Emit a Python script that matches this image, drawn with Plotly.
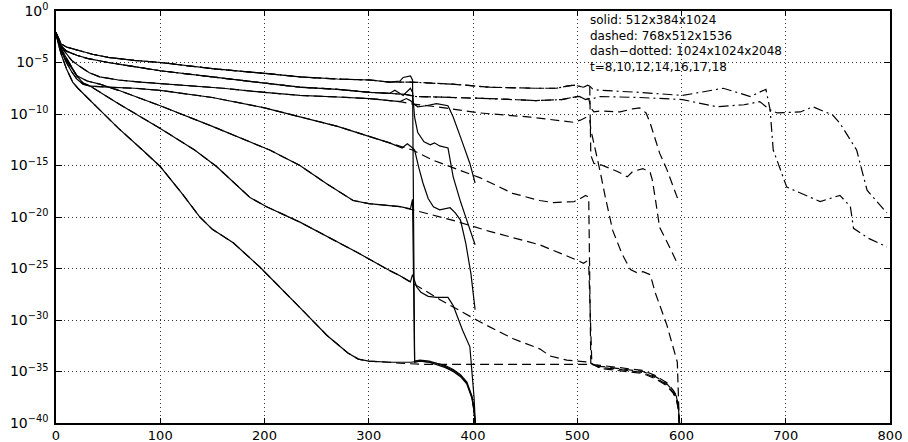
import plotly.graph_objects as go

# ---------- shared trajectories (x, log10 residual) up to x~320 ----------
A_pre_x = [0, 2, 5, 10, 20, 35, 50, 75, 100, 150, 200, 234, 270, 301, 320]
A_pre_e = [-2.1, -2.6, -3.2, -3.5, -3.8, -4.2, -4.5, -4.8, -5.0, -5.6, -6.05, -6.4, -6.6, -6.7, -6.9]
B_pre_x = [0, 2, 5, 10, 20, 30, 50, 75, 100, 150, 200, 234, 270, 301, 320]
B_pre_e = [-2.1, -2.7, -3.4, -3.9, -4.3, -4.6, -5.0, -5.4, -5.8, -6.4, -7.0, -7.4, -7.6, -7.9, -8.0]
C_pre_x = [0, 2, 5, 10, 15, 23, 32, 42, 60, 81, 120, 160, 200, 234, 270, 301, 320]
C_pre_e = [-2.1, -2.8, -3.5, -4.2, -4.8, -5.4, -6.0, -6.4, -6.7, -6.9, -7.2, -7.5, -7.9, -8.2, -8.35, -8.5, -8.7]
D_pre_x = [0, 2, 5, 10, 15, 20, 26, 33, 50, 75, 100, 150, 200, 234, 270, 301, 320]
D_pre_e = [-2.1, -2.9, -3.7, -4.6, -5.4, -6.3, -7.0, -7.3, -7.4, -7.5, -7.7, -8.4, -9.4, -10.3, -11.2, -12.2, -12.8]
E_pre_x = [0, 2, 5, 10, 15, 20, 30, 42, 60, 100, 150, 205, 234, 260, 285, 300, 320]
E_pre_e = [-2.1, -2.9, -3.8, -4.8, -5.6, -6.3, -6.8, -7.1, -7.7, -9.2, -11.2, -13.5, -15.0, -16.8, -18.4, -18.7, -18.9]
F_pre_x = [0, 2, 5, 10, 15, 20, 26, 33, 60, 100, 133, 154, 186, 202, 234, 290, 320]
F_pre_e = [-2.1, -3.0, -3.9, -5.0, -5.9, -6.6, -7.1, -7.3, -9.0, -11.4, -13.5, -15.1, -18.1, -19.0, -20.5, -23.5, -25.2]
G_pre_x = [0, 2, 5, 10, 16, 21, 40, 60, 83, 100, 120, 138, 150, 170, 196, 215, 234, 260, 280, 290, 300, 320]
G_pre_e = [-2.1, -3.1, -4.2, -5.6, -6.9, -7.5, -9.4, -11.4, -13.5, -15.1, -17.6, -20.0, -21.2, -22.5, -24.9, -26.8, -28.8, -31.5, -33.2, -33.8, -34.0, -34.1]

# ---------- solid (512x384x1024) continuation ----------
sA_x = [330, 333, 340, 342, 344, 349, 358, 365, 373, 381, 388, 394, 399, 401, 402.5]
sA_e = [-6.8, -6.45, -6.3, -6.7, -34.0, -33.9, -34.0, -34.2, -34.5, -34.9, -35.4, -36.1, -37.5, -38.8, -40.5]
sB_x = [325, 333, 340, 342, 344, 347, 353, 359, 363, 368, 376, 381, 388, 394, 400, 402]
sB_e = [-7.7, -8.2, -7.5, -7.9, -10.3, -11.8, -12.7, -13.0, -12.8, -13.1, -13.3, -16.1, -18.5, -20.3, -22.0, -22.7]
sC_x = [330, 336, 340, 343, 347, 355, 365, 376, 381, 390, 397, 402]
sC_e = [-8.8, -8.5, -8.7, -9.0, -9.3, -9.2, -9.0, -9.2, -10.3, -12.8, -14.8, -16.7]
sD_x = [332, 337, 341, 344, 348, 352, 357, 362, 368, 373, 378, 383, 388, 393, 398, 402]
sD_e = [-13.3, -12.9, -13.2, -13.5, -15.2, -16.7, -18.2, -19.0, -19.3, -19.2, -19.1, -19.6, -20.3, -22.5, -25.5, -29.0]
sE_x = [330, 340, 342, 344, 349, 358, 365, 373, 381, 388, 394, 399, 401, 402.5]
sE_e = [-19.0, -19.2, -18.3, -34.1, -34.0, -34.1, -34.3, -34.6, -35.0, -35.5, -36.2, -37.6, -38.9, -40.5]
sF_x = [330, 338, 340, 342, 346, 350, 357, 365, 376, 381, 385, 390, 397, 399, 401, 402.5]
sF_e = [-25.7, -26.2, -26.3, -25.6, -26.8, -27.3, -27.7, -27.8, -27.8, -28.6, -29.7, -31.0, -32.6, -34.9, -37.5, -40.5]
sG_x = [330, 340, 350, 365, 373, 381, 388, 394, 399, 401, 402.5]
sG_e = [-34.1, -34.1, -34.0, -34.2, -34.4, -34.8, -35.3, -36.0, -37.4, -38.7, -40.5]

# ---------- dashed (768x512x1536) continuation ----------
dA_mid_x = [340, 380, 416, 460, 480, 490, 497, 506, 510, 512]
dA_mid_e = [-6.9, -7.1, -7.4, -7.5, -7.5, -7.3, -7.2, -7.4, -7.2, -7.3]
dA_post_x = [513, 516, 522, 539, 548, 553, 563, 570, 572, 575, 579, 586, 597]
dA_post_e = [-14.0, -14.8, -14.9, -15.6, -16.1, -15.6, -15.3, -15.7, -16.4, -18.3, -21.0, -22.4, -24.7]
dB_mid_x = [335, 345, 380, 416, 460, 485, 495, 502, 508, 511]
dB_mid_e = [-8.1, -8.3, -8.4, -8.5, -8.7, -8.6, -8.4, -8.3, -8.6, -8.5]
dB_post_x = [513, 516, 522, 541, 553, 560, 566, 570, 575, 579, 586, 597]
dB_post_e = [-9.4, -9.8, -9.7, -9.8, -9.5, -9.4, -9.9, -10.9, -12.5, -13.8, -15.4, -18.4]
dC_x = [330, 340, 365, 407, 455, 496, 503, 509, 512, 513, 517, 522, 527, 534, 543, 551, 557, 563, 570, 575, 586, 596, 598]
dC_e = [-8.8, -9.0, -9.3, -9.9, -10.3, -10.8, -10.6, -10.3, -10.5, -11.5, -13.2, -15.6, -18.1, -21.3, -23.6, -25.1, -25.4, -25.3, -25.6, -27.4, -30.5, -34.1, -40.5]
dD_x = [330, 342, 362, 407, 438, 464, 477, 497, 503, 508, 511, 513, 522, 540, 563, 575, 586, 592, 595, 597, 598.5]
dD_e = [-13.1, -13.5, -14.5, -16.2, -17.7, -18.4, -18.6, -18.5, -18.2, -17.9, -18.1, -34.2, -34.5, -34.7, -35.0, -35.5, -36.2, -36.9, -37.4, -38.4, -40.5]
dE_x = [330, 342, 380, 416, 464, 500, 506, 509, 511, 514, 522, 540, 563, 575, 586, 592, 595, 597, 598.5]
dE_e = [-19.0, -19.3, -20.3, -21.4, -22.7, -24.2, -24.5, -24.3, -24.6, -34.3, -34.6, -34.8, -35.1, -35.6, -36.3, -37.0, -37.6, -38.6, -40.5]
dF_x = [330, 340, 368, 407, 438, 464, 474, 490, 506, 512, 522, 540, 563, 575, 586, 592, 595, 597, 598]
dF_e = [-25.7, -26.3, -28.0, -30.2, -31.8, -32.8, -33.5, -33.9, -34.0, -34.1, -34.7, -34.9, -35.2, -35.7, -36.4, -37.1, -37.7, -38.7, -40.5]
dG_x = [330, 350, 400, 450, 512, 522, 540, 563, 575, 586, 592, 595, 597, 598]
dG_e = [-34.2, -34.3, -34.3, -34.3, -34.3, -34.4, -34.6, -34.9, -35.4, -36.1, -36.8, -37.3, -38.3, -40.5]

# ---------- dash-dotted (1024x1024x2048) continuation ----------
ddA_post_x = [515, 522, 560, 601, 618, 640, 666, 678, 681, 685, 688, 701, 714, 733, 752, 762, 765, 780, 797]
ddA_post_e = [-7.6, -7.7, -7.9, -8.2, -7.9, -7.5, -8.3, -7.7, -7.6, -9.6, -13.5, -17.1, -17.7, -18.5, -17.9, -19.0, -21.1, -22.1, -22.9]
ddB_post_x = [515, 522, 560, 601, 634, 660, 675, 682, 685, 692, 714, 726, 745, 752, 762, 768, 778, 797]
ddB_post_e = [-8.5, -8.3, -8.4, -8.6, -9.3, -9.1, -8.8, -9.3, -9.6, -9.9, -9.8, -9.3, -10.1, -10.9, -12.5, -13.5, -17.4, -19.6]

# ---------- axis ticks / annotation text ----------
x_ticks = [0, 100, 200, 300, 400, 500, 600, 700, 800]
y_tick_exps = [0, -5, -10, -15, -20, -25, -30, -35, -40]
note_lines = ["solid: 512x384x1024", "dashed: 768x512x1536",
              "dash\u2212dotted: 1024x1024x2048", "t=8,10,12,14,16,17,18"]

DASH = "9px,5px"
DASHDOT = "10px,4px,2px,4px"

fig = go.Figure()


def add(xs, es, dash):
    fig.add_trace(go.Scatter(x=xs, y=[10.0 ** v for v in es], mode="lines",
                             line=dict(color="black", width=1.2, dash=dash),
                             showlegend=False, hoverinfo="skip"))


pre = {"A": (A_pre_x, A_pre_e), "B": (B_pre_x, B_pre_e), "C": (C_pre_x, C_pre_e),
       "D": (D_pre_x, D_pre_e), "E": (E_pre_x, E_pre_e), "F": (F_pre_x, F_pre_e),
       "G": (G_pre_x, G_pre_e)}

# dashed
dashed = {"A": (dA_mid_x + dA_post_x, dA_mid_e + dA_post_e),
          "B": (dB_mid_x + dB_post_x, dB_mid_e + dB_post_e),
          "C": (dC_x, dC_e), "D": (dD_x, dD_e), "E": (dE_x, dE_e),
          "F": (dF_x, dF_e), "G": (dG_x, dG_e)}
for k, (px, pe) in pre.items():
    dx, de = dashed[k]
    add(px + dx, pe + de, DASH)

# dash-dotted
add(A_pre_x + dA_mid_x + ddA_post_x, A_pre_e + dA_mid_e + ddA_post_e, DASHDOT)
add(B_pre_x + dB_mid_x + ddB_post_x, B_pre_e + dB_mid_e + ddB_post_e, DASHDOT)

# solid
solid = {"A": (sA_x, sA_e), "B": (sB_x, sB_e), "C": (sC_x, sC_e), "D": (sD_x, sD_e),
         "E": (sE_x, sE_e), "F": (sF_x, sF_e), "G": (sG_x, sG_e)}
for k, (px, pe) in pre.items():
    sx, se = solid[k]
    add(px + sx, pe + se, "solid")

FONT = "DejaVu Sans, Liberation Sans, Arial, sans-serif"

fig.update_layout(
    width=908, height=442,
    margin=dict(l=56, r=18, t=11, b=19),
    paper_bgcolor="white", plot_bgcolor="white",
    font=dict(family=FONT, size=13, color="black"),
    xaxis=dict(range=[0, 800], tickvals=x_ticks, ticks="inside", ticklen=5,
               tickcolor="black", showline=True, linecolor="black", linewidth=1.5,
               mirror="allticks", showgrid=True, gridcolor="#333", gridwidth=1,
               griddash="1px,3px", zeroline=False, tickfont=dict(size=13),
               automargin=False, ticklabelstandoff=0),
    yaxis=dict(type="log", range=[-40, 0], tickvals=[10.0 ** v for v in y_tick_exps],
               ticktext=["10<sup>%s</sup>" % (str(v).replace("-", "\u2212")) for v in y_tick_exps],
               ticks="inside", ticklen=6, tickcolor="black", showline=True,
               linecolor="black", linewidth=1.5, mirror="allticks", showgrid=True,
               gridcolor="#333", gridwidth=1, griddash="1px,3px", zeroline=False,
               tickfont=dict(size=14), automargin=False, ticklabelstandoff=3),
)

fig.add_annotation(text="<br>".join(note_lines), xref="paper", yref="paper",
                   x=0.638, y=0.922, xanchor="left", yanchor="middle", align="left",
                   showarrow=False, font=dict(family=FONT, size=12, color="black"))

fig.write_html("out.html")
